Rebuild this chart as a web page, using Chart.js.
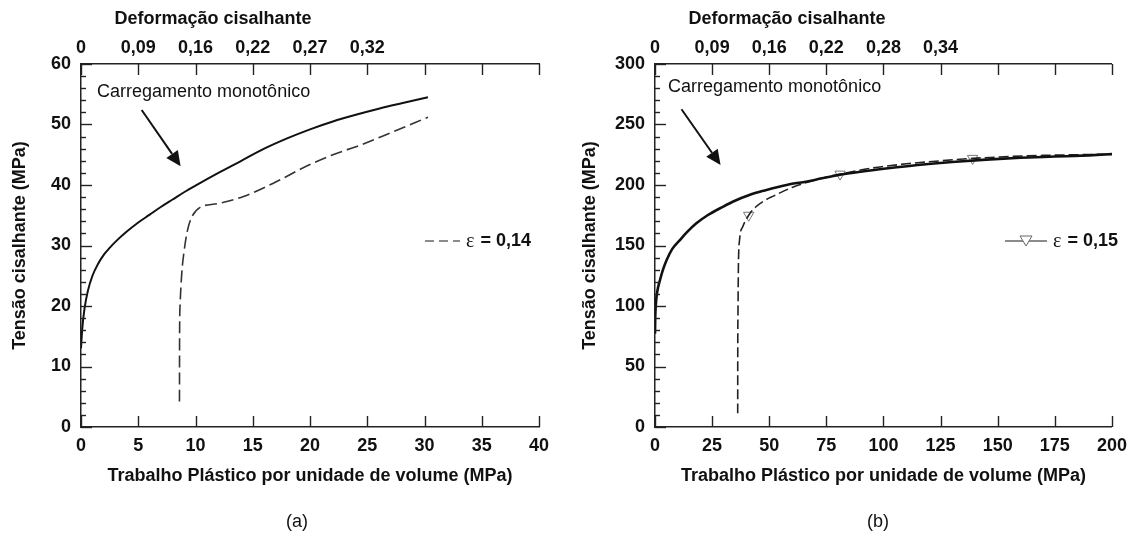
<!DOCTYPE html>
<html>
<head>
<meta charset="utf-8">
<script src="https://cdn.jsdelivr.net/npm/chart.js@4.4.1/dist/chart.umd.min.js"></script>
<style>
  html, body { margin: 0; padding: 0; background: #fff; }
  #wrap { position: relative; width: 1135px; height: 540px; }
  .panel { position: absolute; top: 0; height: 540px; }
</style>
</head>
<body>
<div id="wrap">
  <div class="panel" style="left:0;width:567px"><canvas id="chartA" width="567" height="540"></canvas></div>
  <div class="panel" style="left:567px;width:568px"><canvas id="chartB" width="568" height="540"></canvas></div>
</div>
<script>
// ---- panel (a) ----
const monoAx = [0, 0.1, 0.3, 0.6, 1, 1.5, 2, 2.5, 3, 4, 5, 6, 7, 8, 9, 10, 12, 14, 16, 18, 20, 22, 24, 26, 28, 30.3];
const monoAy = [13, 16, 19.5, 22.5, 25, 27, 28.5, 29.6, 30.6, 32.3, 33.8, 35.1, 36.4, 37.6, 38.8, 39.9, 42, 44, 46, 47.7, 49.2, 50.5, 51.6, 52.6, 53.5, 54.5];
const cycAx = [8.6, 8.61, 8.65, 8.8, 9.0, 9.3, 9.7, 10.4, 11.9, 14.2, 16.8, 19.9, 22, 24.4, 27, 30.3];
const cycAy = [4.2, 15, 20, 25.4, 29, 32.5, 34.8, 36.3, 36.9, 38.1, 40.3, 43.3, 45, 46.6, 48.6, 51.2];
const strainLabelsA = ['0', '0,09', '0,16', '0,22', '0,27', '0,32', '', '', ''];

// ---- panel (b) ----
const monoBx = [0, 0.1, 0.4, 1, 2.2, 3.5, 5.1, 7.5, 10.9, 14, 18.1, 23, 29.7, 35, 41.3, 48, 54.3, 60, 66, 73, 80.4, 90, 102, 115, 130, 145, 160, 175, 190, 200];
const monoBy = [77, 90, 102, 112, 121.5, 130, 138, 147, 154.5, 161, 168.3, 175, 182, 187, 191.7, 195.5, 198.6, 201, 202.7, 205.5, 208.3, 211, 213.8, 216.5, 219, 221, 222.5, 223.5, 224.5, 225.5];
const cycBx = [36.2, 36.21, 36.3, 36.5, 37, 38.4, 41, 44.2, 47.8, 52, 60, 70, 81, 95, 110, 125, 139, 155, 170, 185, 200];
const cycBy = [11.3, 50, 90, 132.5, 154.5, 165.5, 175, 182, 187, 191, 198, 204, 209, 214, 217.5, 220, 222, 223.5, 224.5, 225, 225.5];
const markBx = [41, 81, 139];
const markBy = [175, 209, 222];
const strainLabelsB = ['0', '0,09', '0,16', '0,22', '0,28', '0,34', '', '', ''];

const FONT = '"Liberation Sans", Arial, Helvetica, sans-serif';
Chart.defaults.font.family = FONT;
Chart.defaults.color = '#111';

function pts(xs, ys) { return xs.map((x, i) => ({ x: x, y: ys[i] })); }

// tick marks pointing into the plot, like the original figure
const inwardTicks = {
  id: 'inwardTicks',
  afterDraw(chart, args, o) {
    const ctx = chart.ctx;
    const sx = chart.scales.x, sy = chart.scales.y;
    const area = chart.chartArea;
    ctx.save();
    ctx.strokeStyle = '#222';
    ctx.lineWidth = 1.4;
    const seg = (x1, y1, x2, y2) => { ctx.beginPath(); ctx.moveTo(x1, y1); ctx.lineTo(x2, y2); ctx.stroke(); };
    for (let v = sx.min; v <= sx.max + 1e-9; v += o.xStep) {
      const px = Math.round(sx.getPixelForValue(v)) + 0.5;
      seg(px, area.bottom, px, area.bottom - o.major);
      seg(px, area.top, px, area.top + o.major);
    }
    for (let v = sy.min; v <= sy.max + 1e-9; v += o.yMinor) {
      const py = Math.round(sy.getPixelForValue(v)) + 0.5;
      const r = v / o.yMajor;
      const len = Math.abs(r - Math.round(r)) < 1e-6 ? o.major : o.minor;
      seg(area.left, py, area.left + len, py);
    }
    ctx.restore();
  }
};

// free texts, arrow and the small legend sample
const notes = {
  id: 'notes',
  afterDraw(chart, args, o) {
    const ctx = chart.ctx;
    const sx = chart.scales.x, sy = chart.scales.y;
    ctx.save();
    ctx.fillStyle = '#111';
    ctx.textBaseline = 'middle';

    ctx.textAlign = 'center';
    ctx.font = 'bold 18px ' + FONT;
    ctx.fillText('Deformação cisalhante', o.headerX, 19);
    ctx.font = '18px ' + FONT;
    ctx.fillText(o.panel, o.panelX, 522);

    ctx.textAlign = 'left';
    ctx.font = '18px ' + FONT;
    ctx.fillText('Carregamento monotônico', sx.getPixelForValue(o.labelAt[0]), sy.getPixelForValue(o.labelAt[1]));

    // arrow
    const x1 = sx.getPixelForValue(o.arrow[0]), y1 = sy.getPixelForValue(o.arrow[1]);
    const x2 = sx.getPixelForValue(o.arrow[2]), y2 = sy.getPixelForValue(o.arrow[3]);
    const ang = Math.atan2(y2 - y1, x2 - x1);
    const hl = 15, hw = 7;
    const bx = x2 - hl * Math.cos(ang), by = y2 - hl * Math.sin(ang);
    ctx.strokeStyle = '#111';
    ctx.lineWidth = 2;
    ctx.beginPath(); ctx.moveTo(x1, y1); ctx.lineTo(bx, by); ctx.stroke();
    ctx.beginPath();
    ctx.moveTo(x2, y2);
    ctx.lineTo(bx + hw * Math.sin(ang), by - hw * Math.cos(ang));
    ctx.lineTo(bx - hw * Math.sin(ang), by + hw * Math.cos(ang));
    ctx.closePath(); ctx.fill();

    // legend sample
    const L = o.key;
    ctx.strokeStyle = '#666';
    ctx.lineWidth = 1.5;
    ctx.setLineDash(L.dash);
    ctx.beginPath(); ctx.moveTo(L.x1, L.y); ctx.lineTo(L.x2, L.y); ctx.stroke();
    ctx.setLineDash([]);
    if (L.marker) {
      const mx = (L.x1 + L.x2) / 2;
      ctx.fillStyle = '#fff';
      ctx.beginPath();
      ctx.moveTo(mx - 6, L.y - 5); ctx.lineTo(mx + 6, L.y - 5); ctx.lineTo(mx, L.y + 5); ctx.closePath();
      ctx.fill(); ctx.lineWidth = 1; ctx.stroke();
    }
    ctx.fillStyle = '#111';
    ctx.font = '20px "Liberation Serif", "DejaVu Serif", serif';
    ctx.fillText('ε', L.x2 + 6, L.y + 1);
    const ew = ctx.measureText('ε').width;
    ctx.font = 'bold 18px ' + FONT;
    ctx.fillText('= ' + L.value, L.x2 + 6 + ew + 6, L.y);
    ctx.restore();
  }
};

function buildOptions(s) {
  const tickFont = { size: 18, weight: 'bold' };
  const titleFont = { size: 18, weight: 'bold' };
  const border = { display: true, color: '#222', width: 1.5 };
  return {
    responsive: false,
    animation: false,
    devicePixelRatio: 1,
    layout: { padding: { left: 0, right: s.padRight, top: 0, bottom: 0 } },
    elements: { line: { cubicInterpolationMode: 'monotone' } },
    plugins: {
      legend: { display: false },
      tooltip: { enabled: false },
      inwardTicks: s.ticks,
      notes: s.notes
    },
    scales: {
      x: {
        type: 'linear', position: 'bottom', min: 0, max: s.xMax,
        ticks: { stepSize: s.xStep, padding: 8, font: tickFont, color: '#111', maxRotation: 0, autoSkip: false },
        grid: { display: false, drawTicks: false },
        border: border,
        title: { display: true, text: 'Trabalho Plástico por unidade de volume (MPa)', font: titleFont, color: '#111', padding: { top: 0, bottom: 53 } },
        afterFit: sc => { sc.height = 113; }
      },
      xTop: {
        type: 'linear', position: 'top', min: 0, max: s.xMax,
        ticks: {
          stepSize: s.xStep, padding: 5, font: tickFont, color: '#111', maxRotation: 0, autoSkip: false,
          callback: v => s.topLabels[Math.round(v / s.xStep)] || ''
        },
        grid: { display: false, drawTicks: false },
        border: border,
        afterFit: sc => { sc.height = 64; }
      },
      y: {
        type: 'linear', min: 0, max: s.yMax,
        ticks: { stepSize: s.yStep, padding: 10, font: tickFont, color: '#111' },
        grid: { display: false, drawTicks: false },
        border: border,
        title: { display: true, text: 'Tensão cisalhante (MPa)', font: titleFont, color: '#111', padding: { top: s.yTitlePad, bottom: 0 } },
        afterFit: sc => { sc.width = s.plotLeft; }
      }
    }
  };
}

const chartA = new Chart(document.getElementById('chartA'), {
  type: 'scatter',
  data: {
    datasets: [
      { label: 'Carregamento monotônico', data: pts(monoAx, monoAy), showLine: true, borderColor: '#111', borderWidth: 2, pointRadius: 0 },
      { label: 'ε = 0,14', data: pts(cycAx, cycAy), showLine: true, borderColor: '#333', borderWidth: 1.6, borderDash: [12, 5], pointRadius: 0 }
    ]
  },
  options: buildOptions({
    padRight: 28, plotLeft: 81, yTitlePad: 9,
    xMax: 40, xStep: 5, yMax: 60, yStep: 10,
    topLabels: strainLabelsA,
    ticks: { xStep: 5, yMajor: 10, yMinor: 2, major: 11, minor: 5 },
    notes: {
      headerX: 213, panel: '(a)', panelX: 297,
      labelAt: [1.4, 55.4],
      arrow: [5.3, 52.4, 8.7, 43.1],
      key: { x1: 425, x2: 460, y: 241, dash: [9, 5], marker: false, value: '0,14' }
    }
  }),
  plugins: [inwardTicks, notes]
});

const chartB = new Chart(document.getElementById('chartB'), {
  type: 'scatter',
  data: {
    datasets: [
      { label: 'Carregamento monotônico', data: pts(monoBx, monoBy), showLine: true, borderColor: '#111', borderWidth: 2.6, pointRadius: 0 },
      { label: 'ε = 0,15', data: pts(cycBx, cycBy), showLine: true, borderColor: '#222', borderWidth: 1.6, borderDash: [10, 4], pointRadius: 0 },
      { label: 'marcadores', data: pts(markBx, markBy), showLine: false, pointStyle: 'triangle', rotation: 180, pointRadius: 6, pointBackgroundColor: '#fff', pointBorderColor: '#777', pointBorderWidth: 1 }
    ]
  },
  options: buildOptions({
    padRight: 21, plotLeft: 88, yTitlePad: 12,
    xMax: 200, xStep: 25, yMax: 300, yStep: 50,
    topLabels: strainLabelsB,
    ticks: { xStep: 25, yMajor: 50, yMinor: 10, major: 11, minor: 5 },
    notes: {
      headerX: 220, panel: '(b)', panelX: 311,
      labelAt: [5.7, 281],
      arrow: [11.6, 262.6, 28.7, 216.5],
      key: { x1: 438, x2: 480, y: 241, dash: [10, 0], marker: true, value: '0,15' }
    }
  }),
  plugins: [inwardTicks, notes]
});
</script>
</body>
</html>
